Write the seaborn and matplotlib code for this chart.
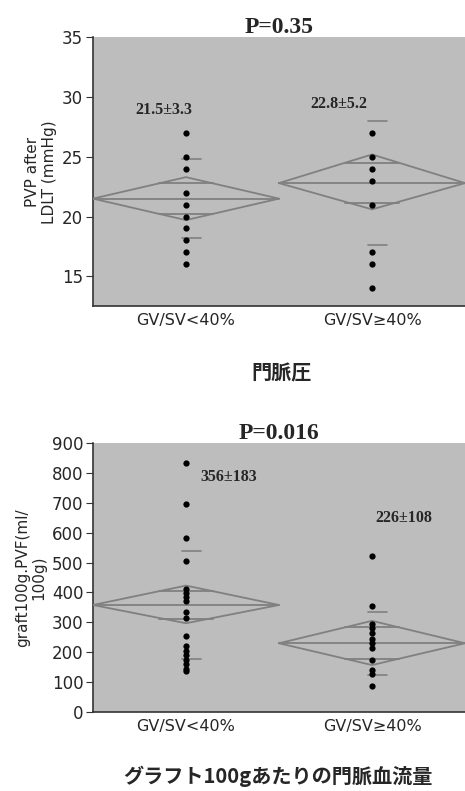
import pandas as pd
import numpy as np
import seaborn as sns
import matplotlib.pyplot as plt

groups = ["GV/SV<40%", "GV/SV≥40%"]

# panel 1: portal vein pressure after LDLT
pvp_low = [27, 25, 24, 22, 21, 20, 19, 18, 17, 16]
pvp_high = [27, 25, 24, 23, 21, 17, 16, 14]
pvp_mean = [21.5, 22.8]
pvp_ci = [(19.7, 23.3), (20.6, 25.2)]
pvp_sd = [(18.2, 24.8), (17.6, 28.0)]
pvp_text = ["21.5±3.3", "22.8±5.2"]
pvp_text_pos = [(-0.12, 28.9), (0.82, 29.4)]

# panel 2: portal vein flow per 100g graft
pvf_low = [834, 695, 582, 504, 412, 399, 386, 372, 336, 313, 254,
           220, 205, 190, 175, 160, 145, 138]
pvf_high = [522, 355, 295, 280, 265, 245, 230, 215, 175, 140, 128, 88]
pvf_mean = [358, 230]
pvf_ci = [(297, 423), (157, 305)]
pvf_sd = [(176, 539), (124, 336)]
pvf_text = ["356±183", "226±108"]
pvf_text_pos = [(0.23, 787), (1.17, 648)]

sns.set_style("white")
plt.rcParams['font.family'] = ['DejaVu Sans', 'Noto Sans CJK JP']

fig = plt.figure(figsize=(4.65, 7.91), dpi=100)
ax1 = fig.add_axes([0.2, 0.6131, 0.8, 0.3395])
ax2 = fig.add_axes([0.2, 0.0999, 0.8, 0.3400])

diamond_col = "#808080"


def draw_panel(ax, low, high, means, cis, sds, texts, text_pos, ylim, yticks, ylabel, title):
    df = pd.DataFrame({"group": [groups[0]] * len(low) + [groups[1]] * len(high),
                       "value": low + high})
    ax.set_facecolor("#bdbdbd")
    sns.stripplot(data=df, x="group", y="value", order=groups, jitter=False,
                  color="black", size=4.5, ax=ax, zorder=5)
    for i, m in enumerate(means):
        lo, hi = cis[i]
        # means diamond
        ax.plot([i - 0.5, i, i + 0.5, i, i - 0.5], [m, hi, m, lo, m],
                color=diamond_col, lw=1.3, zorder=3)
        ax.plot([i - 0.5, i + 0.5], [m, m], color=diamond_col, lw=1.3, zorder=3)
        # overlap marks
        half = (hi - m) / np.sqrt(2)
        frac = 1 - half / (hi - m)
        for y in (m + half, m - half):
            ax.plot([i - 0.5 * frac, i + 0.5 * frac], [y, y], color=diamond_col, lw=1.3, zorder=3)
        # sd marks
        for y in sds[i]:
            ax.plot([i - 0.02, i + 0.08], [y, y], color=diamond_col, lw=1.2, zorder=3)
        ax.text(text_pos[i][0], text_pos[i][1], texts[i], ha="center", va="center",
                fontsize=11.5, fontweight="bold", family="Liberation Serif", zorder=6)
    ax.set_xlim(-0.5, 1.5)
    ax.set_ylim(*ylim)
    ax.set_yticks(yticks)
    ax.set_xticks([0, 1])
    ax.set_xticklabels(groups)
    ax.set_xticks([0.5], minor=True)
    ax.tick_params(axis="x", which="major", length=0, labelsize=11.5, pad=5)
    ax.tick_params(axis="x", which="minor", length=3, color="#333333")
    ax.tick_params(axis="y", length=5, labelsize=12, color="#333333", left=True, pad=2)
    ax.set_xlabel("")
    ax.set_ylabel(ylabel, fontsize=11, linespacing=1.1)
    ax.set_title(title, fontsize=17, fontweight="bold", family="Liberation Serif", pad=3)
    for s in ("top", "right"):
        ax.spines[s].set_visible(False)
    for s in ("left", "bottom"):
        ax.spines[s].set_color("#333333")
        ax.spines[s].set_linewidth(1.2)


draw_panel(ax1, pvp_low, pvp_high, pvp_mean, pvp_ci, pvp_sd, pvp_text, pvp_text_pos,
           (12.5, 35), [15, 20, 25, 30, 35], "PVP after\nLDLT (mmHg)", "P=0.35")
draw_panel(ax2, pvf_low, pvf_high, pvf_mean, pvf_ci, pvf_sd, pvf_text, pvf_text_pos,
           (0, 900), list(range(0, 901, 100)), "graft100g.PVF(ml/\n100g)", "P=0.016")

fig.text(0.606, 1 - 373 / 791, "門脈圧", ha="center", va="center", fontsize=14.5,
         fontweight="bold", family=['Noto Sans CJK JP', 'DejaVu Sans'])
fig.text(0.598, 1 - 776 / 791, "グラフト100gあたりの門脈血流量", ha="center", va="center",
         fontsize=14.5, fontweight="bold", family=['Noto Sans CJK JP', 'DejaVu Sans'])

fig.savefig("out.png", dpi=100)
